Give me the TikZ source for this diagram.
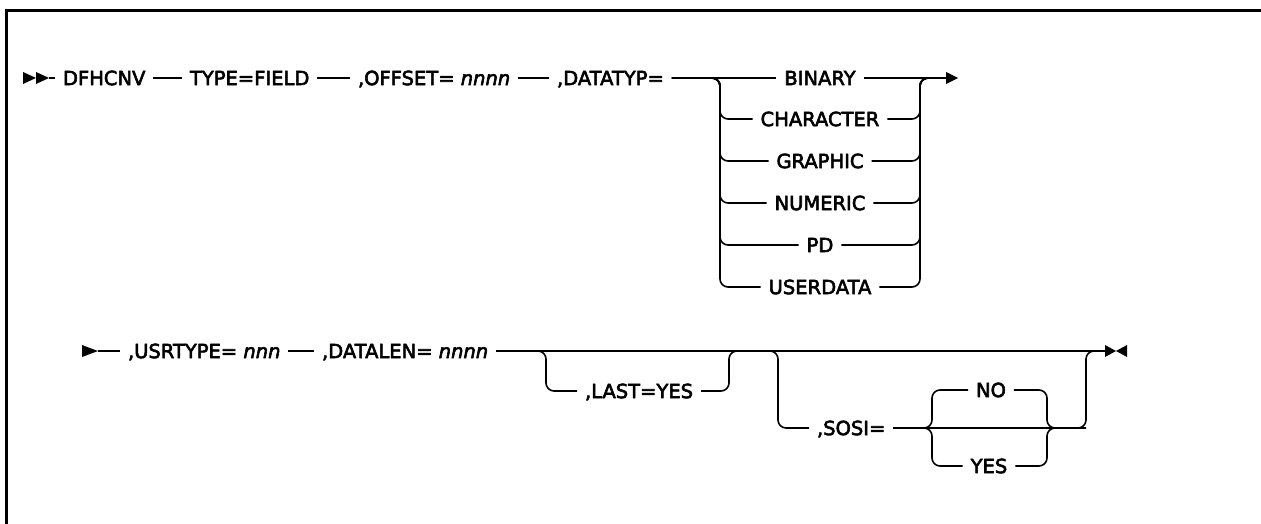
\documentclass[tikz,border=0pt]{standalone}
\usepackage{fontspec}
\setmainfont{DejaVu Sans}[FakeBold=3]
\begin{document}
\begin{tikzpicture}[x=1pt,y=-1pt,line width=1.6pt,line join=round,
  lbl/.style={inner sep=0pt,outer xsep=8pt,outer ysep=0pt,text height=14.2pt,text depth=0pt,
    font=\fontsize{19.5}{24}\selectfont,anchor=text},
  opt/.style={lbl,anchor=base},
  rc/.style={rounded corners=8pt}]
\useasboundingbox (0,0) rectangle (1261,524);
% frame
\draw[line width=2.6pt,line join=miter] (6.2,524) -- (6.2,10.8) -- (1261,10.8);

% ---------- row 1 ----------
\def\ya{78}
\def\dy{7.1}
\coordinate (s1) at (49,\ya);
\fill (23,72) -- (36,78) -- (23,84) -- cycle;
\fill (36,72) -- (49,78) -- (36,84) -- cycle;
\node[lbl] (dfh) at (63,\ya+\dy) {DFHCNV};
\node[lbl] (typ) at (190,\ya+\dy) {TYPE=FIELD};
\node[lbl] (off) at (358,\ya+\dy) {,OFFSET= \textit{nnnn}};
\node[lbl] (dat) at (557,\ya+\dy) {,DATATYP=};
\draw (s1) -- (dfh.west);
\draw (dfh.east) -- (typ.west);
\draw (typ.east) -- (off.west);
\draw (off.east) -- (dat.west);

\coordinate (gL) at (720,\ya);
\coordinate (gR) at (920,\ya);
\coordinate (a1) at (947,\ya);
\node[opt] (bin) at (820,\ya+\dy) {BINARY};
\node[opt] (cha) at (820,119+\dy) {CHARACTER};
\node[opt] (gra) at (820,161+\dy) {GRAPHIC};
\node[opt] (num) at (820,203+\dy) {NUMERIC};
\node[opt] (pd)  at (820,245+\dy) {PD};
\node[opt] (usd) at (820,287+\dy) {USERDATA};
\draw (dat.east) -- (bin.west);
\draw (bin.east) -- (a1);
\fill (946,72) -- (958,78) -- (946,84) -- cycle;
\foreach \b in {cha,gra,num,pd,usd}{
  \draw[rc] (dat.east) -- (gL) -- (gL |- \b) -- (\b.west);
  \draw[rc] (\b.east) -- (gR |- \b) -- (gR) -- (a1);
}

% ---------- row 2 ----------
\def\yb{351}
\coordinate (s2) at (98,\yb);
\fill (82,345) -- (98,351) -- (82,357) -- cycle;
\node[lbl] (usr) at (128,\yb+\dy) {,USRTYPE= \textit{nnn}};
\node[lbl] (dl)  at (322,\yb+\dy) {,DATALEN= \textit{nnnn}};
\draw (s2) -- (usr.west);
\draw (usr.east) -- (dl.west);

\coordinate (e2) at (1105,\yb);
\fill (1105,345) -- (1116,351) -- (1105,357) -- cycle;
\fill (1127,345) -- (1116,351) -- (1127,357) -- cycle;
\draw (dl.east) -- (e2);

% optional ,LAST=YES
\coordinate (lL) at (546,\yb);
\coordinate (lR) at (729,\yb);
\node[lbl] (last) at (585,391+\dy) {,LAST=YES};
\draw[rc] (dl.east) -- (lL) -- (lL |- last) -- (last.west);
\draw[rc] (last.east) -- (lR |- last) -- (lR) -- (e2);

% optional ,SOSI=
\coordinate (sL) at (778,\yb);
\coordinate (sR) at (1086,\yb);
\node[lbl] (sosi) at (817,428+\dy) {,SOSI=};
\coordinate (bL) at (932,428);
\coordinate (bR) at (1047,428);
\node[opt] (no)  at (991,390+\dy) {NO};
\node[opt] (yes) at (989,466+\dy) {YES};
\draw[rc] (dl.east) -- (sL) -- (sL |- sosi) -- (sosi.west);
\draw[rc] (sosi.east) -- (bL) -- (bL |- no) -- (no.west);
\draw[rc] (sosi.east) -- (bL) -- (bL |- yes) -- (yes.west);
\draw[rc] (no.east) -- (bR |- no) -- (bR) -- (sR |- bR) -- (sR) -- (e2);
\draw[rc] (yes.east) -- (bR |- yes) -- (bR) -- (sR |- bR);
\draw (sosi.east) -- (sR |- sosi);
\end{tikzpicture}
\end{document}
